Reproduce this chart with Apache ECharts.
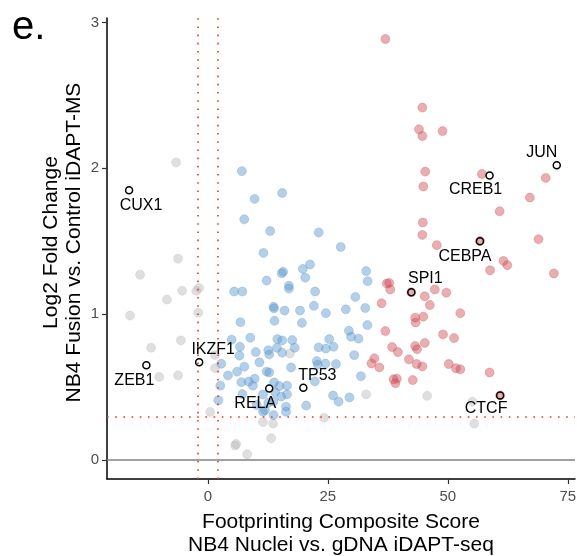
<!DOCTYPE html>
<html>
<head>
<meta charset="utf-8">
<title>e.</title>
<script src="https://cdn.jsdelivr.net/npm/echarts@6/dist/echarts.min.js"></script>
<style>
  html, body { margin: 0; padding: 0; background: #fff; }
  #chart { width: 577px; height: 556px; }
</style>
</head>
<body>
<div id="chart"></div>
<script>
  // points below the cutoffs
  var greyPoints = [
    [-6.6, 2.04], [-6.2, 1.38], [-14.1, 1.27], [-5.35, 1.16], [-2.4, 1.16], [-1.8, 1.18],
    [-8.5, 1.10], [-16.2, 0.99], [-2.0, 1.01], [-5.6, 0.82], [-11.8, 0.77], [-10.1, 0.57],
    [-6.2, 0.58], [0.5, 0.33], [1.5, 0.72], [1.5, 0.63], [17.1, 0.73], [11.5, 0.26],
    [13.6, 0.25], [13.2, 0.15], [5.7, 0.10], [5.9, 0.11], [8.2, 0.04], [24.2, 0.29],
    [33.0, 0.45], [45.7, 0.44], [55.1, 0.40], [55.5, 0.25]
  ]

  var bluePoints = [
    [7.1, 1.98], [9.75, 1.79], [15.5, 1.83], [7.6, 1.65], [13.0, 1.57], [23.1, 1.56],
    [27.7, 1.46], [11.6, 1.42], [21.3, 1.34], [19.8, 1.31], [15.7, 1.29], [15.4, 1.28],
    [20.3, 1.25], [12.25, 1.23], [16.9, 1.195], [16.9, 1.175], [5.5, 1.155], [7.2, 1.155],
    [22.35, 1.155], [13.7, 1.05], [13.8, 1.04], [16.0, 1.025], [19.2, 1.025], [22.1, 1.057],
    [24.6, 1.007], [13.9, 0.954], [19.6, 0.94], [6.8, 0.945], [4.96, 0.825], [8.85, 0.838],
    [14.5, 0.829], [15.5, 0.82], [17.6, 0.822], [25.3, 0.829], [6.7, 0.776], [6.6, 0.716],
    [10.0, 0.74], [12.6, 0.753], [12.8, 0.724], [14.4, 0.769], [15.5, 0.736], [18.1, 0.77],
    [23.1, 0.772], [24.6, 0.764], [26.2, 0.776], [2.8, 0.66], [7.6, 0.64], [6.1, 0.606],
    [4.2, 0.58], [10.75, 0.67], [12.25, 0.606], [12.8, 0.60], [17.35, 0.634], [22.7, 0.678],
    [22.9, 0.654], [24.5, 0.661], [26.7, 0.658], [7.0, 0.534], [8.5, 0.538], [9.75, 0.557],
    [9.4, 0.51], [13.8, 0.532], [14.9, 0.507], [16.5, 0.51], [22.3, 0.539], [2.6, 0.51],
    [7.2, 0.452], [11.5, 0.449], [14.0, 0.466], [15.3, 0.435], [16.5, 0.45], [2.2, 0.41],
    [12.6, 0.392], [13.7, 0.402], [16.3, 0.366], [16.3, 0.331], [20.5, 0.373], [13.7, 0.308],
    [11.5, 0.331], [10.2, 0.377], [26.1, 0.442], [27.25, 0.40], [33.0, 1.295], [33.3, 1.226],
    [30.75, 1.118], [28.75, 1.033], [32.8, 1.042], [33.25, 0.925], [29.4, 0.886], [29.85, 0.845],
    [31.4, 0.832], [30.5, 0.719], [31.9, 0.575], [29.5, 0.429], [11.9, 0.342]
  ]

  var redPoints = [
    [37.0, 2.886], [44.7, 2.416], [44.0, 2.267], [44.7, 2.221], [48.9, 2.255], [45.3, 1.977],
    [57.1, 1.961], [70.4, 1.934], [44.9, 1.875], [67.1, 1.799], [60.8, 1.705], [44.8, 1.628],
    [44.7, 1.543], [68.9, 1.514], [47.7, 1.473], [56.7, 1.502], [61.6, 1.365], [62.4, 1.336],
    [58.8, 1.301], [72.1, 1.279], [37.3, 1.21], [37.8, 1.214], [38.0, 1.169], [36.2, 1.075],
    [45.2, 1.123], [47.3, 1.169], [49.7, 1.147], [46.25, 1.062], [52.6, 1.007], [43.2, 0.976],
    [43.3, 0.943], [44.9, 0.983], [37.0, 0.884], [49.0, 0.861], [51.3, 0.836], [45.2, 0.803],
    [38.4, 0.774], [43.2, 0.781], [43.6, 0.76], [39.6, 0.74], [41.9, 0.69], [43.5, 0.658],
    [44.7, 0.642], [50.2, 0.658], [51.7, 0.629], [52.6, 0.622], [34.7, 0.697], [34.1, 0.662],
    [35.75, 0.635], [38.7, 0.553], [39.4, 0.558], [39.1, 0.527], [42.7, 0.548], [58.7, 0.60],
    [60.9, 0.443], [42.4, 1.15]
  ]

  // highlighted factors
  var labelNames = ['CUX1', 'JUN', 'CREB1', 'CEBPA', 'SPI1', 'IKZF1', 'ZEB1', 'RELA', 'TP53', 'CTCF']
  var labelX = [-16.4, 72.7, 58.7, 56.7, 42.4, -1.8, -12.8, 12.8, 19.9, 60.9]
  var labelY = [1.85, 2.02, 1.95, 1.50, 1.15, 0.67, 0.65, 0.49, 0.495, 0.443]

  var xTicks = [0, 25, 50, 75]
  var yTicks = [0, 1, 2, 3]
  var scoreCut = 2
  var foldCut = 0.3

  // where each name sits relative to its ring
  var labelOffsets = {
    CUX1: [12, 15], JUN: [-15, -13], CREB1: [-14, 14], CEBPA: [-15, 15], SPI1: [14, -14],
    IKZF1: [14, -13], ZEB1: [-12, 15], RELA: [-14, 15], TP53: [14, -12], CTCF: [-14, 13]
  }

  var font = '"Liberation Sans", Arial, Helvetica, sans-serif'
  var dotted = { color: '#ff2a2a', type: [1.6, 6.6], width: 1.6 }

  function initChart() {
    var chart = echarts.init(document.getElementById('chart'))

    var labelled = labelNames.map(function (n, i) {
      return {
        name: n,
        value: [labelX[i], labelY[i]],
        label: { offset: labelOffsets[n] }
      }
    })

    chart.setOption({
      backgroundColor: '#fff',
      animation: false,
      title: {
        text: 'e.',
        left: 7,
        top: 3,
        textStyle: { fontFamily: font, fontSize: 40, fontWeight: 'normal', color: '#000' }
      },
      grid: {
        left: 107,
        right: 2,
        top: 18,
        bottom: 77,
        outerBoundsMode: 'none'
      },
      xAxis: {
        type: 'value',
        min: -21,
        max: 76.5,
        name: 'Footprinting Composite Score\nNB4 Nuclei vs. gDNA iDAPT-seq',
        nameLocation: 'middle',
        nameGap: 32,
        nameTextStyle: { fontFamily: font, fontSize: 21, lineHeight: 23, color: '#000' },
        axisLine: { onZero: false, lineStyle: { color: '#000', width: 1.5 } },
        axisTick: { customValues: xTicks, length: 5, lineStyle: { color: '#333', width: 1.2 } },
        axisLabel: { customValues: xTicks, margin: 10, fontFamily: font, fontSize: 15, color: '#4d4d4d' },
        splitLine: { show: false }
      },
      yAxis: {
        type: 'value',
        min: -0.13,
        max: 3.03,
        name: 'Log2 Fold Change\nNB4 Fusion vs. Control iDAPT-MS',
        nameLocation: 'middle',
        nameGap: 26,
        nameMoveOverlap: false,
        nameTextStyle: { fontFamily: font, fontSize: 21, lineHeight: 23, color: '#000', padding: [-5, 0, -5, 12] },
        axisLine: { onZero: false, lineStyle: { color: '#000', width: 1.5 } },
        axisTick: { customValues: yTicks, length: 5, lineStyle: { color: '#333', width: 1.2 } },
        axisLabel: { customValues: yTicks, margin: 8, fontFamily: font, fontSize: 15, color: '#4d4d4d' },
        splitLine: { show: false }
      },
      series: [
        {
          name: 'cutoffs',
          type: 'scatter',
          data: [],
          z: 1,
          markLine: {
            silent: true,
            symbol: 'none',
            label: { show: false },
            animation: false,
            data: [
              { yAxis: 0, lineStyle: { color: '#808080', type: 'solid', width: 1.5 } },
              { xAxis: -scoreCut, lineStyle: dotted },
              { xAxis: scoreCut, lineStyle: dotted },
              { yAxis: foldCut, lineStyle: dotted }
            ]
          }
        },
        {
          name: 'grey',
          type: 'scatter',
          symbolSize: 9,
          z: 2,
          itemStyle: { color: 'rgba(185,185,185,0.45)', borderColor: 'rgba(185,185,185,0.3)', borderWidth: 1, opacity: 1 },
          data: greyPoints
        },
        {
          name: 'blue',
          type: 'scatter',
          symbolSize: 9,
          z: 2,
          itemStyle: { color: 'rgba(88,150,205,0.45)', borderColor: 'rgba(88,150,205,0.3)', borderWidth: 1, opacity: 1 },
          data: bluePoints
        },
        {
          name: 'red',
          type: 'scatter',
          symbolSize: 9,
          z: 2,
          itemStyle: { color: 'rgba(205,75,85,0.45)', borderColor: 'rgba(205,75,85,0.3)', borderWidth: 1, opacity: 1 },
          data: redPoints
        },
        {
          name: 'labelled',
          type: 'scatter',
          symbolSize: 7,
          z: 3,
          itemStyle: { color: 'rgba(0,0,0,0)', borderColor: '#000', borderWidth: 1.5, opacity: 1 },
          label: {
            show: true,
            position: 'inside',
            formatter: '{b}',
            fontFamily: font,
            fontSize: 16,
            color: '#000'
          },
          data: labelled
        }
      ]
    })
  }

  initChart()
</script>
</body>
</html>
